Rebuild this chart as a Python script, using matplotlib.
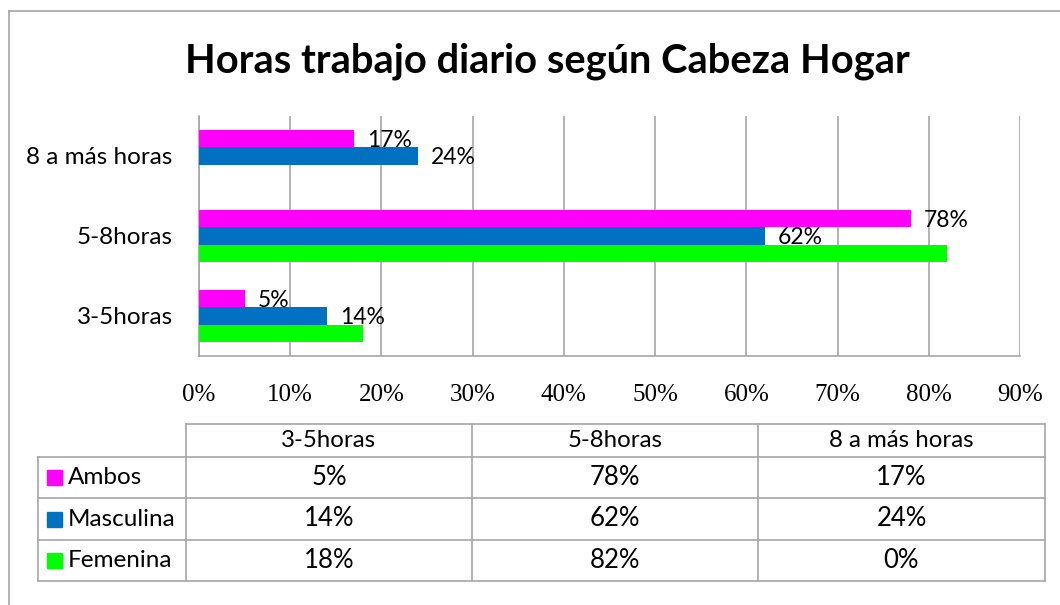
#%% imports
import matplotlib
matplotlib.use("Agg")
import matplotlib.pyplot as plt
import numpy as np

#%% data
categorias = ["3-5horas", "5-8horas", "8 a más horas"]
series = ["Ambos", "Masculina", "Femenina"]
ambos = [5, 78, 17]
masculina = [14, 62, 24]
femenina = [18, 82, 0]
xticks = [0, 10, 20, 30, 40, 50, 60, 70, 80, 90]
colores = ["#FF00FF", "#0070C0", "#00FF00"]
titulo = "Horas trabajo diario según Cabeza Hogar"

valores = [ambos, masculina, femenina]

#%% figure
W, H = 1060, 605
fig = plt.figure(figsize=(W / 100, H / 100), dpi=100)
gris = "#A6A6A6"
sans = ["Lato", "DejaVu Sans"]

# overlay in pixel coords for frame, title and data table
ov = fig.add_axes([0, 0, 1, 1])
ov.set_xlim(0, W)
ov.set_ylim(H, 0)
ov.axis("off")
ov.plot([9, 9], [11, H], color=gris, lw=1.2)
ov.plot([9, W], [11, 11], color=gris, lw=1.2)
ov.text(547, 73, titulo, ha="center", va="baseline", fontsize=28.7,
        fontweight="bold", family=sans)

#%% bar chart
ax = fig.add_axes([199 / W, (H - 356) / H, (1020 - 199) / W, (356 - 116) / H])
y = np.arange(len(categorias))
h = 0.22
offs = [h, 0, -h]
for vals, off, col in zip(valores, offs, colores):
    ax.barh(y + off, vals, height=h, color=col, zorder=3)
# labels only for Ambos and Masculina
for vals, off in zip(valores[:2], offs[:2]):
    for yi, v in zip(y, vals):
        ax.annotate(f"{v}%", (v, yi + off), xytext=(13, -2), textcoords="offset pixels",
                    va="center", ha="left", fontsize=16.5, family=sans, zorder=4)

ax.set_xlim(0, 90)
ax.set_ylim(-0.5, 2.5)
ax.set_xticks(xticks)
ax.set_xticklabels([f"{t}%" for t in xticks], family="Liberation Serif", fontsize=18)
ax.set_yticks(y)
ax.set_yticklabels(categorias, family=sans, fontsize=17.5)
ax.tick_params(axis="both", length=0)
ax.tick_params(axis="x", pad=20)
ax.tick_params(axis="y", pad=19)
ax.grid(axis="x", color=gris, lw=1.2, zorder=0)
for s in ["top", "right"]:
    ax.spines[s].set_visible(False)
for s in ["left", "bottom"]:
    ax.spines[s].set_color(gris)
    ax.spines[s].set_linewidth(1.2)

#%% data table under the chart
cols = [186, 472, 758, 1045]
rows = [424, 457, 498, 540, 581]
left = 38
lw = 1.2
# horizontal lines
ov.plot([cols[0], cols[-1]], [rows[0], rows[0]], color=gris, lw=lw)
for r in rows[1:]:
    ov.plot([left, cols[-1]], [r, r], color=gris, lw=lw)
# vertical lines
for c in cols:
    ov.plot([c, c], [rows[0], rows[-1]], color=gris, lw=lw)
ov.plot([left, left], [rows[1], rows[-1]], color=gris, lw=lw)

for j, cat in enumerate(categorias):
    ov.text((cols[j] + cols[j + 1]) / 2, (rows[0] + rows[1]) / 2, cat,
            ha="center", va="center", fontsize=17.3, family=sans)
for i, (nombre, vals, col) in enumerate(zip(series, valores, colores)):
    yc = (rows[i + 1] + rows[i + 2]) / 2
    ov.add_patch(plt.Rectangle((47, yc - 7.5), 15, 15, color=col))
    ov.text(68, yc, nombre, ha="left", va="center", fontsize=17.5, family=sans)
    for j, v in enumerate(vals):
        ov.text((cols[j] + cols[j + 1]) / 2, yc, f"{v}%",
                ha="center", va="center", fontsize=18.5, family=sans)

fig.savefig("out.png", dpi=100)
